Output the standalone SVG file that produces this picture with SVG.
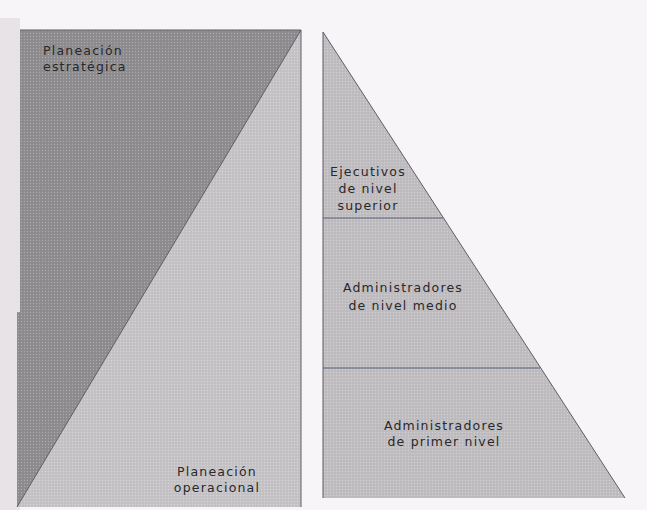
<svg xmlns="http://www.w3.org/2000/svg" width="647" height="510" viewBox="0 0 647 510">
  <style>
    .lbl { font-family: "DejaVu Sans", "Liberation Sans", Arial, sans-serif; font-size: 12.5px; letter-spacing: 1.2px; fill: #29282b; }
    .mid { text-anchor: middle; }
    .edge { fill: none; stroke: #5f5d66; stroke-width: 1; }
    .rule { stroke: #56607a; stroke-width: 1; }
  </style>
  <defs>
    <!-- fine halftone grain laid over the grey fills -->
    <pattern id="grain" width="3" height="3" patternUnits="userSpaceOnUse">
      <rect x="0" y="0" width="1" height="1" fill="#ffffff" opacity="0.25"/>
      <rect x="1.5" y="1.5" width="1" height="1" fill="#000000" opacity="0.08"/>
    </pattern>
  </defs>

  <!-- paper -->
  <rect x="0" y="0" width="647" height="510" fill="#f7f5f7"/>
  <rect x="0" y="18" width="20" height="492" fill="#e7e3e7"/>

  <!-- left panel: strategic vs operational planning -->
  <g id="planeacion-operacional">
    <polygon points="301,30 301,507 17,507" fill="#c7c4c7"/>
    <polygon points="301,30 301,507 17,507" fill="url(#grain)"/>
  </g>
  <g id="planeacion-estrategica">
    <polygon points="20,30 301,30 17,507 17,312 20,312" fill="#8f8d90"/>
    <polygon points="20,30 301,30 17,507 17,312 20,312" fill="url(#grain)"/>
  </g>

  <!-- right panel: management levels -->
  <g id="piramide">
    <polygon points="323,32 625,498 323,498" fill="#c1bec1"/>
    <polygon points="323,32 625,498 323,498" fill="url(#grain)"/>
  </g>

  <g id="connectors">
    <line class="edge" x1="20" y1="30" x2="301" y2="30"/>
    <line class="edge" x1="301" y1="30" x2="301" y2="507"/>
    <line class="edge" x1="301" y1="30" x2="17" y2="507"/>
    <line class="edge" x1="323" y1="32" x2="323" y2="498"/>
    <line class="edge" x1="323" y1="32" x2="625" y2="498"/>
    <line class="rule" x1="323" y1="218" x2="443" y2="218"/>
    <line class="rule" x1="323" y1="368" x2="540" y2="368"/>
  </g>

  <g id="texto-estrategica">
    <text class="lbl" x="43" y="55">Planeación</text>
    <text class="lbl" x="43" y="71">estratégica</text>
  </g>
  <g id="texto-operacional">
    <text class="lbl mid" x="217" y="476">Planeación</text>
    <text class="lbl mid" x="217" y="492">operacional</text>
  </g>
  <g id="nivel-superior">
    <text class="lbl mid" x="368" y="176">Ejecutivos</text>
    <text class="lbl mid" x="368" y="193">de nivel</text>
    <text class="lbl mid" x="368" y="210">superior</text>
  </g>
  <g id="nivel-medio">
    <text class="lbl mid" x="403" y="292">Administradores</text>
    <text class="lbl mid" x="403" y="310">de nivel medio</text>
  </g>
  <g id="primer-nivel">
    <text class="lbl mid" x="444" y="430">Administradores</text>
    <text class="lbl mid" x="444" y="446">de primer nivel</text>
  </g>
</svg>
